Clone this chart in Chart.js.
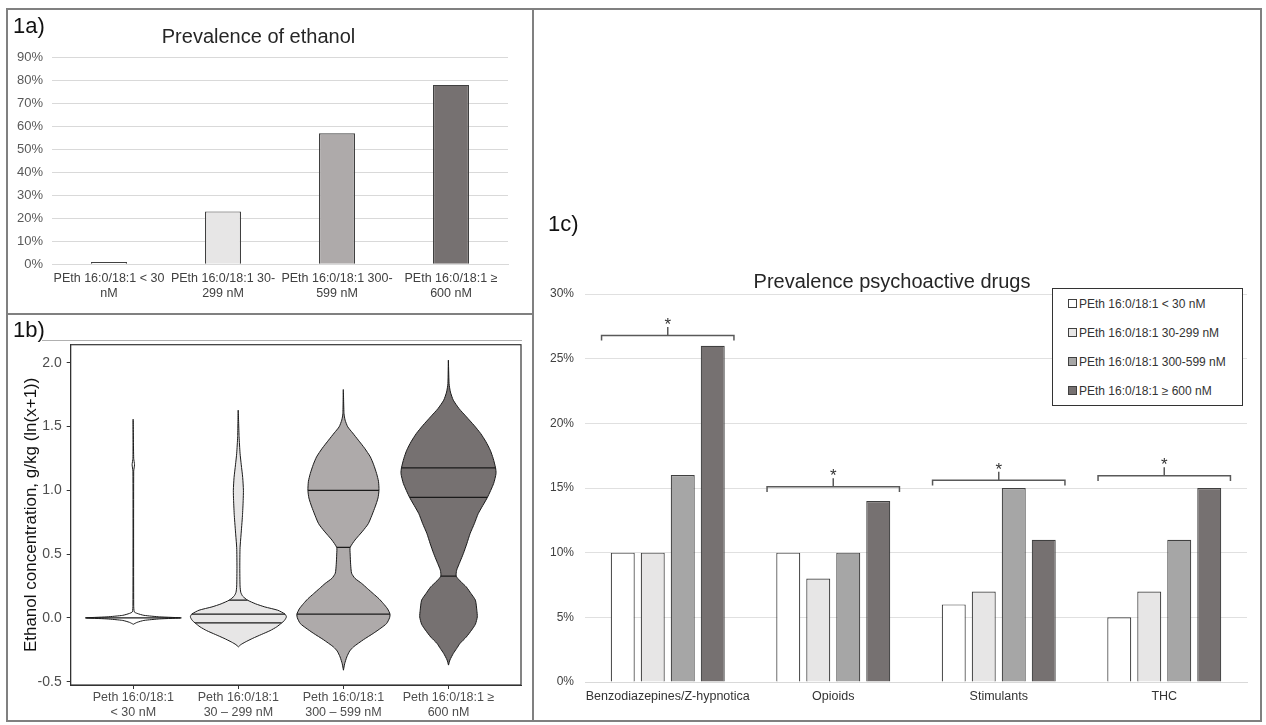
<!DOCTYPE html>
<html>
<head>
<meta charset="utf-8">
<script src="https://cdn.jsdelivr.net/npm/chart.js@4.4.0/dist/chart.umd.min.js"></script>
<style>
  body { margin: 0; background: #fff; font-family: "Liberation Sans", Arial, sans-serif; }
  #fig { position: relative; width: 1266px; height: 725px; overflow: hidden; }
  #fig canvas, .lbl, .rule, #legend1c { position: absolute; }
  .rule { background: #808080; }
  .lbl { font-size: 22px; line-height: 22px; color: #111; }
  #legend1c { background: #fff; border: 1px solid #333; box-sizing: border-box; font-size: 12px; color: #333; }
  #legend1c .it { position: absolute; left: 15px; line-height: 14px; white-space: nowrap; }
  #legend1c .sw { display: inline-block; width: 7px; height: 7px; border: 1px solid #404040; margin-right: 2px; vertical-align: 0px; }
</style>
</head>
<body>
<div id="fig">
  <canvas id="c1a" width="522" height="301" style="left:9px;top:11px"></canvas>
  <canvas id="c1b" width="522" height="405" style="left:9px;top:316px"></canvas>
  <canvas id="c1c" width="723" height="710" style="left:537px;top:11px"></canvas>

  <div class="rule" style="left:6px;top:8px;width:1256px;height:2px"></div>
  <div class="rule" style="left:6px;top:720px;width:1256px;height:2px"></div>
  <div class="rule" style="left:6px;top:8px;width:2px;height:714px"></div>
  <div class="rule" style="left:1260px;top:8px;width:2px;height:714px"></div>
  <div class="rule" style="left:532px;top:8px;width:2px;height:714px"></div>
  <div class="rule" style="left:6px;top:313px;width:528px;height:2px"></div>
  <div class="rule" style="left:42px;top:340px;width:480px;height:1px;background:#b0b0b0"></div>

  <div class="lbl" style="left:13px;top:15px">1a)</div>
  <div class="lbl" style="left:13px;top:319px">1b)</div>
  <div class="lbl" style="left:548px;top:213px">1c)</div>

  <div id="legend1c" style="left:1052px;top:288px;width:191px;height:118px"></div>
</div>

<script>
// ---- 1a: prevalence of ethanol ----
const ethanolGroups = [
  ['PEth 16:0/18:1 < 30', 'nM'],
  ['PEth 16:0/18:1 30-', '299 nM'],
  ['PEth 16:0/18:1 300-', '599 nM'],
  ['PEth 16:0/18:1 \u2265', '600 nM']
];
const ethanolPct = [1, 23, 57, 78];

// ---- 1b: violin shapes (y level, relative half width) ----
const violinLabels = [
  ['Peth 16:0/18:1', '< 30 nM'],
  ['Peth 16:0/18:1', '30 \u2013 299 nM'],
  ['Peth 16:0/18:1', '300 \u2013 599 nM'],
  ['Peth 16:0/18:1 \u2265', '600 nM']
];
const v1Y = [-0.05, -0.035, -0.02, -0.008, 0, 0.008, 0.02, 0.035, 0.047, 0.1, 1.15, 1.2, 1.25, 1.557];
const v1W = [0, 0.08, 0.22, 0.55, 1.0, 0.55, 0.22, 0.08, 0.02, 0.008, 0.008, 0.025, 0.008, 0.004];
const v2Y = [-0.227, -0.21, -0.19, -0.16, -0.13, -0.1, -0.07, -0.04, -0.02, 0.008, 0.03, 0.06, 0.086, 0.11, 0.139, 0.17, 0.2, 0.25, 0.4, 0.55, 0.65, 0.8, 0.92, 1.0, 1.1, 1.2, 1.29, 1.42, 1.628];
const v2W = [0, 0.05, 0.14, 0.3, 0.48, 0.66, 0.8, 0.9, 0.96, 1.0, 0.97, 0.82, 0.55, 0.36, 0.19, 0.09, 0.05, 0.035, 0.03, 0.035, 0.055, 0.085, 0.1, 0.105, 0.09, 0.06, 0.035, 0.015, 0.004];
const v3Y = [-0.41, -0.36, -0.306, -0.26, -0.227, -0.17, -0.122, -0.08, -0.044, 0, 0.029, 0.07, 0.113, 0.15, 0.19, 0.23, 0.27, 0.31, 0.35, 0.42, 0.5, 0.552, 0.61, 0.68, 0.74, 0.87, 0.94, 1.0, 1.07, 1.132, 1.2, 1.262, 1.33, 1.393, 1.45, 1.497, 1.55, 1.6, 1.79];
const v3W = [0, 0.025, 0.07, 0.13, 0.21, 0.42, 0.62, 0.78, 0.9, 0.96, 0.97, 0.92, 0.83, 0.74, 0.62, 0.5, 0.38, 0.24, 0.17, 0.15, 0.14, 0.14, 0.24, 0.4, 0.52, 0.66, 0.72, 0.74, 0.73, 0.69, 0.63, 0.56, 0.44, 0.31, 0.19, 0.09, 0.035, 0.012, 0.003];
const v4Y = [-0.37, -0.33, -0.279, -0.24, -0.2, -0.15, -0.096, -0.05, 0.008, 0.06, 0.139, 0.19, 0.243, 0.29, 0.327, 0.374, 0.44, 0.505, 0.58, 0.661, 0.74, 0.818, 0.944, 1.053, 1.132, 1.176, 1.25, 1.314, 1.38, 1.445, 1.51, 1.575, 1.64, 1.706, 1.77, 1.837, 2.02];
const v4W = [0, 0.03, 0.1, 0.17, 0.24, 0.37, 0.48, 0.56, 0.6, 0.59, 0.56, 0.47, 0.37, 0.24, 0.16, 0.17, 0.24, 0.31, 0.38, 0.45, 0.54, 0.62, 0.81, 0.94, 0.99, 0.98, 0.93, 0.87, 0.78, 0.67, 0.53, 0.375, 0.22, 0.1, 0.04, 0.012, 0.003];
const quantY = [[0], [-0.039, 0.029, 0.139], [0.029, 0.552, 1.0], [0.327, 0.944, 1.176]];
const quantW = [[0.98], [0.9, 0.97, 0.19], [0.97, 0.14, 0.74], [0.16, 0.81, 0.98]];
const yTicks1b = [-0.5, 0, 0.5, 1, 1.5, 2];

// ---- 1c: prevalence psychoactive drugs ----
const drugs = ['Benzodiazepines/Z-hypnotica', 'Opioids', 'Stimulants', 'THC'];
const seriesNames = ['PEth 16:0/18:1 < 30 nM', 'PEth 16:0/18:1 30-299 nM', 'PEth 16:0/18:1 300-599 nM', 'PEth 16:0/18:1 \u2265 600 nM'];
const below30 = [10, 10, 6, 5];
const from30to299 = [10, 8, 7, 7];
const from300to599 = [16, 10, 15, 11];
const above600 = [26, 14, 11, 15];
const bracketAt = [26.8, 15.1, 15.6, 15.95];

const greys = ['#ffffff', '#e7e6e6', '#aeaaaa', '#767171'];
const greys1c = ['#ffffff', '#e7e6e6', '#a6a6a6', '#767171'];

Chart.defaults.font.family = '"Liberation Sans", Arial, sans-serif';
Chart.defaults.animation = false;
Chart.defaults.plugins.legend.display = false;
Chart.defaults.plugins.tooltip.enabled = false;

// 1a
new Chart(document.getElementById('c1a'), {
  type: 'bar',
  data: {
    labels: ethanolGroups,
    datasets: [{
      data: ethanolPct,
      backgroundColor: greys,
      borderColor: '#404040',
      borderWidth: 1.2,
      categoryPercentage: 1,
      barPercentage: 0.316
    }]
  },
  options: {
    responsive: false,
    layout: { padding: { left: 0, right: 23, top: 0, bottom: 0 } },
    plugins: {
      title: {
        display: true, text: 'Prevalence of ethanol', color: '#262626',
        font: { size: 20, weight: 'normal' }, padding: { top: 14.5, bottom: 7.8 }
      }
    },
    scales: {
      x: {
        grid: { display: false, drawTicks: false },
        border: { color: '#d9d9d9' },
        ticks: { font: { size: 12.5 }, color: '#404040', padding: 7, maxRotation: 0, autoSkip: false },
        afterFit: s => { s.height = 47.7; }
      },
      y: {
        min: 0, max: 90,
        ticks: { stepSize: 10, callback: v => v + '%', font: { size: 13 }, color: '#595959', padding: 9 },
        grid: { color: '#d9d9d9', drawTicks: false },
        border: { display: false },
        afterFit: s => { s.width = 43; }
      }
    }
  }
});

// 1b
const violinY = [v1Y, v2Y, v3Y, v4Y];
const violinW = [v1W, v2W, v3W, v4W];
const HALF = 0.457;
const datasets1b = [];
violinY.forEach((ys, i) => {
  const c = i + 1;
  const left = ys.map((y, k) => ({ x: c - violinW[i][k] * HALF, y }));
  const right = ys.map((y, k) => ({ x: c + violinW[i][k] * HALF, y })).reverse();
  datasets1b.push({
    data: left.concat(right.slice(1)),
    showLine: true, fill: 'shape', tension: 0.2,
    backgroundColor: greys[i], borderColor: '#1a1a1a', borderWidth: 1,
    pointRadius: 0, order: 1
  });
  quantY[i].forEach((q, k) => {
    datasets1b.push({
      data: [{ x: c - quantW[i][k] * HALF, y: q }, { x: c + quantW[i][k] * HALF, y: q }],
      showLine: true, fill: false, borderColor: '#1a1a1a', borderWidth: 1.2,
      pointRadius: 0, order: 0
    });
  });
});

const frame = {
  id: 'frame',
  afterDraw(chart) {
    const { ctx, chartArea: a } = chart;
    ctx.save();
    ctx.strokeStyle = '#333';
    ctx.lineWidth = 1.2;
    ctx.strokeRect(a.left, a.top, a.right - a.left, a.bottom - a.top);
    ctx.restore();
  }
};

new Chart(document.getElementById('c1b'), {
  type: 'scatter',
  data: { datasets: datasets1b },
  options: {
    responsive: false,
    layout: { padding: { left: 0, right: 10, top: 28.7, bottom: 0 } },
    scales: {
      x: {
        type: 'linear', min: 0.404, max: 4.69,
        afterBuildTicks: s => { s.ticks = [1, 2, 3, 4].map(v => ({ value: v })); },
        ticks: { callback: v => violinLabels[v - 1], font: { size: 12.5 }, color: '#4d4d4d', padding: 1, maxRotation: 0, autoSkip: false },
        grid: { drawOnChartArea: false, drawTicks: true, tickLength: 4, color: '#333' },
        border: { color: '#333' },
        afterFit: s => { s.height = 36; }
      },
      y: {
        min: -0.526, max: 2.141,
        afterBuildTicks: s => { s.ticks = yTicks1b.map(v => ({ value: v })); },
        ticks: { callback: v => v.toFixed(1), font: { size: 14 }, color: '#4d4d4d', padding: 5 },
        grid: { drawOnChartArea: false, drawTicks: true, tickLength: 4, color: '#333' },
        border: { color: '#333' },
        title: {
          display: true, text: 'Ethanol concentration, g/kg (ln(x+1))', color: '#111',
          font: { size: 17, lineHeight: 1.2 }, padding: { top: 12.3, bottom: 0 }
        },
        afterFit: s => { s.width = 61.7; }
      }
    }
  },
  plugins: [frame]
});

// 1c
const brackets = {
  id: 'brackets',
  afterDatasetsDraw(chart) {
    const { ctx, scales: { x, y } } = chart;
    const half = 0.4 * (x.getPixelForValue(1) - x.getPixelForValue(0));
    ctx.save();
    ctx.strokeStyle = '#595959';
    ctx.lineWidth = 1.5;
    ctx.fillStyle = '#333';
    ctx.font = '17px "Liberation Sans", Arial, sans-serif';
    ctx.textAlign = 'center';
    ctx.textBaseline = 'alphabetic';
    bracketAt.forEach((h, i) => {
      const cx = x.getPixelForValue(i);
      const yy = y.getPixelForValue(h);
      const yEnd = y.getPixelForValue(h - 0.4);
      const yTop = y.getPixelForValue(h + 0.65);
      ctx.beginPath();
      ctx.moveTo(cx - half, yEnd);
      ctx.lineTo(cx - half, yy);
      ctx.lineTo(cx + half, yy);
      ctx.lineTo(cx + half, yEnd);
      ctx.moveTo(cx, yy);
      ctx.lineTo(cx, yTop);
      ctx.stroke();
      ctx.fillText('*', cx, y.getPixelForValue(h + 1.2) + 10);
    });
    ctx.restore();
  }
};

const series1c = [below30, from30to299, from300to599, above600];
const chart1c = new Chart(document.getElementById('c1c'), {
  type: 'bar',
  data: {
    labels: drugs,
    datasets: series1c.map((vals, i) => ({
      label: seriesNames[i],
      data: vals,
      backgroundColor: greys1c[i],
      borderColor: '#404040',
      borderWidth: 1.2,
      categoryPercentage: 0.725,
      barPercentage: 0.8
    }))
  },
  options: {
    responsive: false,
    layout: { padding: { left: 0, right: 13, top: 0, bottom: 0 } },
    plugins: {
      title: {
        display: true, text: 'Prevalence psychoactive drugs', color: '#262626',
        font: { size: 20, weight: 'normal' }, padding: { top: 259, bottom: 0 }
      }
    },
    scales: {
      x: {
        grid: { display: false, drawTicks: false },
        border: { color: '#d9d9d9' },
        ticks: { font: { size: 12.5 }, color: '#333', padding: 7, maxRotation: 0, autoSkip: false },
        afterFit: s => { s.height = 39; }
      },
      y: {
        min: 0, max: 30,
        ticks: { stepSize: 5, callback: v => v + '%', font: { size: 12 }, color: '#404040', padding: 11 },
        grid: { color: '#e0e0e0', drawTicks: false },
        border: { display: false },
        afterFit: s => { s.width = 48; }
      }
    }
  },
  plugins: [brackets]
});

// legend for 1c, built from the chart's datasets
const legend = document.getElementById('legend1c');
chart1c.data.datasets.forEach((ds, k) => {
  const it = document.createElement('div');
  it.className = 'it';
  it.style.top = (8 + 29 * k) + 'px';
  const sw = document.createElement('span');
  sw.className = 'sw';
  sw.style.background = ds.backgroundColor;
  it.appendChild(sw);
  it.appendChild(document.createTextNode(ds.label));
  legend.appendChild(it);
});
</script>
</body>
</html>
